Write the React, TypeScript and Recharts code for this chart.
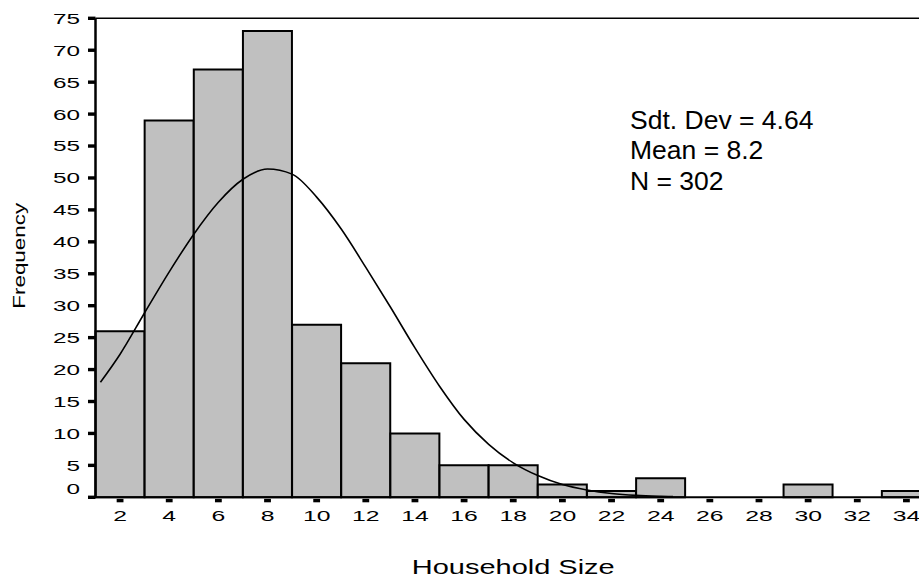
import React from 'react';
import { ComposedChart, Bar, Line, XAxis, YAxis, ReferenceLine } from 'recharts';

// Histogram bins (width 2, centred on even household sizes)
const binCenters = [2, 4, 6, 8, 10, 12, 14, 16, 18, 20, 22, 24, 26, 28, 30, 32, 34];
const binCounts = [26, 59, 67, 73, 27, 21, 10, 5, 5, 2, 1, 3, 0, 0, 2, 0, 1];

// Axis ticks
const xTickValues = [2, 4, 6, 8, 10, 12, 14, 16, 18, 20, 22, 24, 26, 28, 30, 32, 34];
const yTickValues = [0, 5, 10, 15, 20, 25, 30, 35, 40, 45, 50, 55, 60, 65, 70, 75];

// Fitted normal curve, sampled along the household-size axis
const curveX = [1.2, 2, 3, 4, 5, 6, 7, 8, 9, 10, 11, 12, 13, 14, 15, 16, 17, 18, 19, 20, 21, 22, 23, 24, 24.5];
const curveY = [18, 22.4, 28.9, 35.3, 41.2, 46.2, 49.8, 51.4, 50.6, 47.0, 42.0, 36.0, 29.8, 23.4, 17.4, 12.2, 8.3, 5.4, 3.4, 2.0, 1.15, 0.6, 0.3, 0.15, 0.1];

// Summary statistics
const statLines = ['Sdt. Dev = 4.64', 'Mean = 8.2', 'N = 302'];

const binData = binCenters.map((c, i) => ({ bin: c, count: binCounts[i] }));
const curveData = curveX.map((x, i) => ({ x, y: curveY[i] }));

const FONT = '"Liberation Sans", Arial, Helvetica, sans-serif';

const XTick = (props: any) => {
  const { x, y, payload } = props;
  return (
    <g>
      <rect x={x - 3.4} y={y + 1.6} width={6.8} height={3.4} fill="#000" />
      <text
        transform={`translate(${x},${y + 23.4}) scale(1.65,1)`}
        textAnchor="middle"
        fontFamily={FONT}
        fontSize={15}
        fill="#000"
      >
        {payload.value}
      </text>
    </g>
  );
};

const YTick = (props: any) => {
  const { x, y, payload } = props;
  const shift = payload.value === 0 ? -9 : 0;
  return (
    <g>
      <rect x={x - 7.5} y={y - 1.7} width={7.5} height={3.4} fill="#000" />
      <text
        transform={`translate(${x - 15.5},${y + shift}) scale(1.62,1)`}
        textAnchor="end"
        dy="0.36em"
        fontFamily={FONT}
        fontSize={15}
        fill="#000"
      >
        {payload.value}
      </text>
    </g>
  );
};

const XTitle = (props: any) => {
  const { viewBox } = props;
  const cx = viewBox.x + viewBox.width / 2;
  return (
    <text
      transform={`translate(${cx},${viewBox.y + 76.5}) scale(1.38,1)`}
      textAnchor="middle"
      fontFamily={FONT}
      fontSize={21}
      fill="#000"
    >
      Household Size
    </text>
  );
};

const YTitle = (props: any) => {
  const { viewBox } = props;
  const cy = viewBox.y + viewBox.height / 2 - 2;
  return (
    <text
      transform={`translate(19.2,${cy}) rotate(-90) scale(1.4,1)`}
      textAnchor="middle"
      y={5.8}
      fontFamily={FONT}
      fontSize={16}
      fill="#000"
    >
      Frequency
    </text>
  );
};

export default function App() {
  return (
    <div style={{ width: 919, height: 577, overflow: 'hidden', position: 'relative', background: '#fff' }}>
      <style>{'body{margin:0;overflow:hidden;}'}</style>
      <ComposedChart
        width={933}
        height={577}
        data={binData}
        margin={{ top: 18.3, right: 2, bottom: 0, left: 0 }}
        barCategoryGap={0}
        barGap={0}
      >
        <XAxis xAxisId="bins" dataKey="bin" type="category" hide height={0} />
        <XAxis
          xAxisId="num"
          dataKey="x"
          type="number"
          domain={[1, 35]}
          ticks={xTickValues}
          interval={0}
          allowDataOverflow
          height={79.7}
          tickSize={0}
          tickMargin={0}
          tickLine={false}
          axisLine={{ stroke: '#000', strokeWidth: 2 }}
          tick={<XTick />}
          label={{ content: XTitle }}
        />
        <YAxis
          domain={[0, 75]}
          ticks={yTickValues}
          interval={0}
          width={95.5}
          tickSize={0}
          tickMargin={0}
          tickLine={false}
          axisLine={{ stroke: '#000', strokeWidth: 2.5 }}
          tick={<YTick />}
          label={{ content: YTitle }}
        />
        <ReferenceLine y={75} xAxisId="num" stroke="#000" strokeWidth={1.6} />
        <Bar
          xAxisId="bins"
          dataKey="count"
          fill="#c0c0c0"
          stroke="#000"
          strokeWidth={2}
          isAnimationActive={false}
        />
        <Line
          xAxisId="num"
          data={curveData}
          dataKey="y"
          type="monotone"
          stroke="#000"
          strokeWidth={1.6}
          dot={false}
          activeDot={false}
          isAnimationActive={false}
        />
        <g>
          {statLines.map((s, i) => (
            <text key={s} x={630} y={128.5 + i * 30.5} fontFamily={FONT} fontSize={26.5} fill="#000">
              {s}
            </text>
          ))}
        </g>
      </ComposedChart>
    </div>
  );
}
